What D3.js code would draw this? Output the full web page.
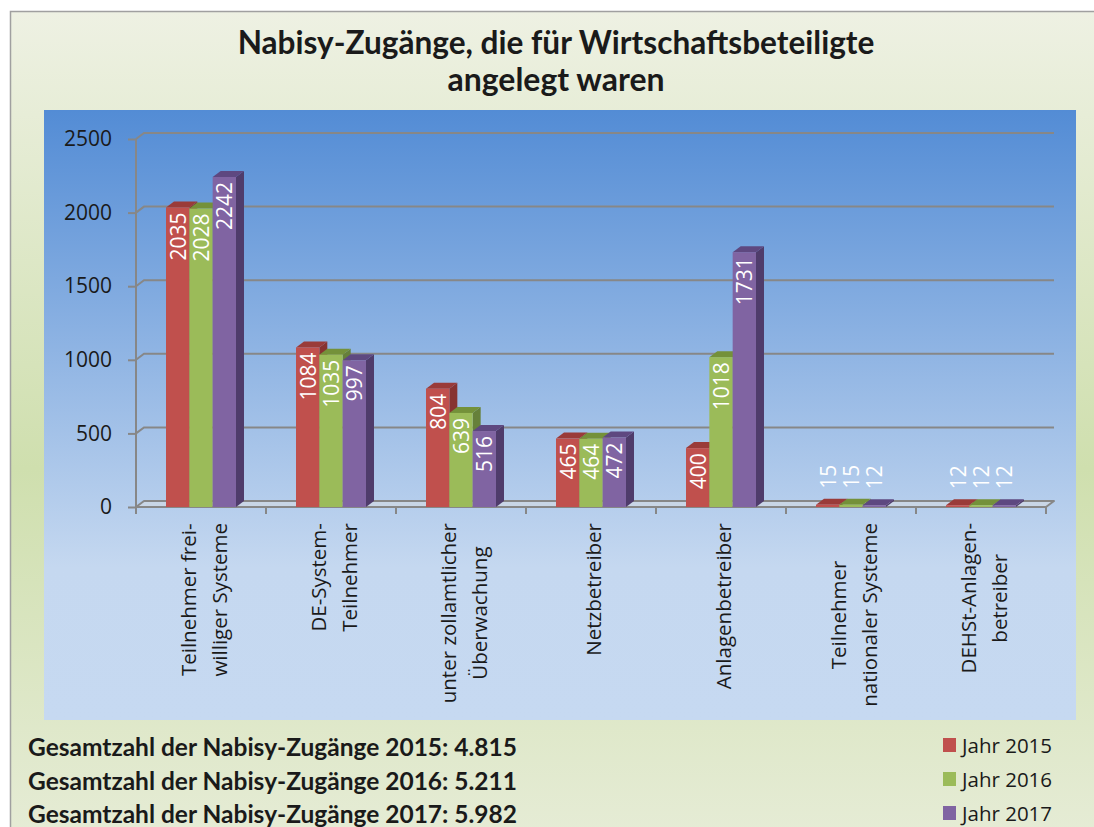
<!DOCTYPE html>
<html>
<head>
<meta charset="utf-8">
<script src="https://cdn.jsdelivr.net/npm/d3@7"></script>
<style>
  body { margin: 0; background: #fff; }
  svg { display: block; font-family: "Open Sans", sans-serif; }
</style>
</head>
<body>
<svg id="chart" width="1094" height="827"></svg>
<script>
var categories = [
    "Teilnehmer frei-|williger Systeme",
    "DE-System-|Teilnehmer",
    "unter zollamtlicher|Überwachung",
    "Netzbetreiber",
    "Anlagenbetreiber",
    "Teilnehmer|nationaler Systeme",
    "DEHSt-Anlagen-|betreiber"
];
var seriesNames = ["Jahr 2015", "Jahr 2016", "Jahr 2017"];
var values2015 = [2035, 1084, 804, 465, 400, 15, 12];
var values2016 = [2028, 1035, 639, 464, 1018, 15, 12];
var values2017 = [2242, 997, 516, 472, 1731, 12, 12];
var yTicks = [0, 500, 1000, 1500, 2000, 2500];
var totalsLines = [
    "Gesamtzahl der Nabisy-Zugänge 2015: 4.815",
    "Gesamtzahl der Nabisy-Zugänge 2016: 5.211",
    "Gesamtzahl der Nabisy-Zugänge 2017: 5.982"
];

var colors = [
    { front: "#c0504d", top: "#9a3b39", side: "#873331" },
    { front: "#9bbb59", top: "#74913a", side: "#66803a" },
    { front: "#8064a2", top: "#5e4880", side: "#4f3c6b" }
];

var svg = d3.select("#chart");
var defs = svg.append("defs");

var outerGrad = defs.append("linearGradient").attr("id", "outerGrad")
    .attr("x1", 0).attr("y1", 0).attr("x2", 0).attr("y2", 1);
outerGrad.append("stop").attr("offset", "0%").attr("stop-color", "#eef1e3");
outerGrad.append("stop").attr("offset", "55%").attr("stop-color", "#cfdfae");
outerGrad.append("stop").attr("offset", "100%").attr("stop-color", "#e6ecd6");

var plotGrad = defs.append("linearGradient").attr("id", "plotGrad")
    .attr("x1", 0).attr("y1", 0).attr("x2", 0).attr("y2", 1);
plotGrad.append("stop").attr("offset", "0%").attr("stop-color", "#538cd5");
plotGrad.append("stop").attr("offset", "75%").attr("stop-color", "#c5d8f0");
plotGrad.append("stop").attr("offset", "100%").attr("stop-color", "#c6d9f1");

// outer chart area
svg.append("rect")
    .attr("x", 10.5).attr("y", 11.5)
    .attr("width", 1100).attr("height", 830)
    .attr("fill", "url(#outerGrad)")
    .attr("stroke", "#a0a0a0").attr("stroke-width", 1.5);

// plot area
svg.append("rect")
    .attr("x", 44).attr("y", 110)
    .attr("width", 1032).attr("height", 610)
    .attr("fill", "url(#plotGrad)");

// fits font size so text reaches the given width
function fitWidth(sel, width) {
    sel.each(function() {
        var len = this.getComputedTextLength();
        var fs = parseFloat(d3.select(this).attr("font-size"));
        d3.select(this).attr("font-size", fs * width / len);
    });
}

// title
var t1 = svg.append("text").attr("x", 556).attr("y", 54)
    .attr("text-anchor", "middle").attr("font-size", 28).attr("font-weight", "bold")
    .attr("font-family", "Lato, sans-serif")
    .attr("fill", "#1a1a1a").text("Nabisy-Zugänge, die für Wirtschaftsbeteiligte");
fitWidth(t1, 637);
var t2 = svg.append("text").attr("x", 556).attr("y", 91)
    .attr("text-anchor", "middle").attr("font-size", 28).attr("font-weight", "bold")
    .attr("font-family", "Lato, sans-serif")
    .attr("fill", "#1a1a1a").text("angelegt waren");
fitWidth(t2, 217);

// scales
var x0 = 136, x1 = 1046, dx = 8, dy = -6;
var x = d3.scaleBand().domain(categories).range([x0, x1]);
var xs = d3.scaleBand().domain(seriesNames).range([30, x.bandwidth() - 30]);
var y = d3.scaleLinear().domain([0, 2500]).range([507, 139]);

var series = [values2015, values2016, values2017];

// back wall gridlines + side wall diagonals
var grid = svg.append("g").attr("stroke", "#878787").attr("stroke-width", 2).attr("fill", "none");
grid.selectAll("path.gl").data(yTicks.slice(1)).enter().append("path")
    .attr("d", function(d) {
        return "M" + x0 + "," + y(d) + "L" + (x0 + dx) + "," + (y(d) + dy) +
            "L" + (x1 + dx) + "," + (y(d) + dy);
    });

// floor
svg.append("path")
    .attr("d", "M" + x0 + "," + y(0) + "L" + x1 + "," + y(0) + "L" + (x1 + dx) + "," + (y(0) + dy) +
        "L" + (x0 + dx) + "," + (y(0) + dy) + "Z")
    .attr("fill", "#c9d6e6").attr("stroke", "#878787").attr("stroke-width", 2)
    .attr("stroke-linejoin", "round");

// y axis
var yAxis = d3.axisLeft(y).tickValues(yTicks).tickSize(8).tickPadding(16).tickFormat(d3.format("d"));
var yg = svg.append("g").attr("transform", "translate(" + x0 + ",0)").call(yAxis);
yg.select(".domain").attr("stroke", "#878787").attr("stroke-width", 2).attr("d", "M0," + y(2500) + "V" + y(0));
yg.selectAll(".tick line").attr("stroke", "#878787").attr("stroke-width", 2);
yg.selectAll(".tick text").attr("font-size", 21).attr("fill", "#1a1a1a")
    .attr("font-family", "'Open Sans', sans-serif");

// category ticks
var boundaries = categories.map(function(c) { return x(c); }).concat([x1]);
svg.append("g").selectAll("line").data(boundaries).enter().append("line")
    .attr("x1", function(d) { return d; }).attr("x2", function(d) { return d; })
    .attr("y1", y(0)).attr("y2", y(0) + 7)
    .attr("stroke", "#878787").attr("stroke-width", 2);

// bars
var barW = xs.bandwidth();
var bars = [];
series.forEach(function(vals, si) {
    vals.forEach(function(v, ci) {
        bars.push({ s: si, c: ci, v: v });
    });
});

var barG = svg.append("g").selectAll("g.bar").data(bars).enter().append("g").attr("class", "bar");
barG.append("path")
    .attr("fill", function(d) { return colors[d.s].side; })
    .attr("d", function(d) {
        var bx = x(categories[d.c]) + xs(seriesNames[d.s]) + barW;
        var yt = y(d.v), yb = y(0);
        return "M" + bx + "," + yb + "L" + bx + "," + yt + "L" + (bx + dx) + "," + (yt + dy) +
            "L" + (bx + dx) + "," + (yb + dy) + "Z";
    });
barG.append("path")
    .attr("fill", function(d) { return colors[d.s].top; })
    .attr("d", function(d) {
        var bx = x(categories[d.c]) + xs(seriesNames[d.s]);
        var yt = y(d.v);
        return "M" + bx + "," + yt + "L" + (bx + barW) + "," + yt + "L" + (bx + barW + dx) + "," + (yt + dy) +
            "L" + (bx + dx) + "," + (yt + dy) + "Z";
    });
barG.append("rect")
    .attr("fill", function(d) { return colors[d.s].front; })
    .attr("x", function(d) { return x(categories[d.c]) + xs(seriesNames[d.s]); })
    .attr("y", function(d) { return y(d.v); })
    .attr("width", barW)
    .attr("height", function(d) { return y(0) - y(d.v); });

// value labels
svg.append("g").selectAll("text").data(bars).enter().append("text")
    .attr("transform", function(d) {
        var cx = x(categories[d.c]) + xs(seriesNames[d.s]) + barW / 2;
        var small = y(0) - y(d.v) < 40;
        var ty = small ? y(d.v) - 16 : y(d.v) + 5;
        return "translate(" + cx + "," + ty + ") rotate(-90)";
    })
    .attr("text-anchor", function(d) { return y(0) - y(d.v) < 40 ? "start" : "end"; })
    .attr("dominant-baseline", "central")
    .attr("font-size", 21).attr("fill", "#ffffff")
    .text(function(d) { return d.v; });

// category labels
var catG = svg.append("g").selectAll("g.cat").data(categories).enter().append("g").attr("class", "cat");
catG.each(function(c) {
    var g = d3.select(this);
    var lines = c.split("|");
    var cx = x(c) + x.bandwidth() / 2 + 2;
    var texts = g.selectAll("text").data(lines).enter().append("text")
        .attr("font-size", 20.5).attr("fill", "#1a1a1a")
        .attr("text-anchor", "middle").attr("dominant-baseline", "central")
        .text(function(d) { return d; });
    var maxLen = 0;
    texts.each(function() { maxLen = Math.max(maxLen, this.getComputedTextLength()); });
    var cy = 523 + maxLen / 2;
    texts.attr("transform", function(d, i) {
        var lx = cx + (i - (lines.length - 1) / 2) * 31;
        return "translate(" + lx + "," + cy + ") rotate(-90)";
    });
});

// totals text
var tot = svg.append("g").selectAll("text").data(totalsLines).enter().append("text")
    .attr("x", 28).attr("y", function(d, i) { return 756 + i * 33.5; })
    .attr("font-size", 21).attr("font-weight", "bold").attr("fill", "#1a1a1a")
    .attr("font-family", "Lato, sans-serif")
    .text(function(d) { return d; });
fitWidth(tot, 489);

// legend
var leg = svg.append("g").selectAll("g").data(seriesNames).enter().append("g")
    .attr("transform", function(d, i) { return "translate(943," + (738 + i * 34) + ")"; });
leg.append("rect").attr("width", 13).attr("height", 14)
    .attr("fill", function(d, i) { return colors[i].front; });
leg.append("text").attr("x", 19).attr("y", 7).attr("dominant-baseline", "central")
    .attr("font-size", 20.5).attr("fill", "#1a1a1a")
    .text(function(d) { return d; });
</script>
</body>
</html>
